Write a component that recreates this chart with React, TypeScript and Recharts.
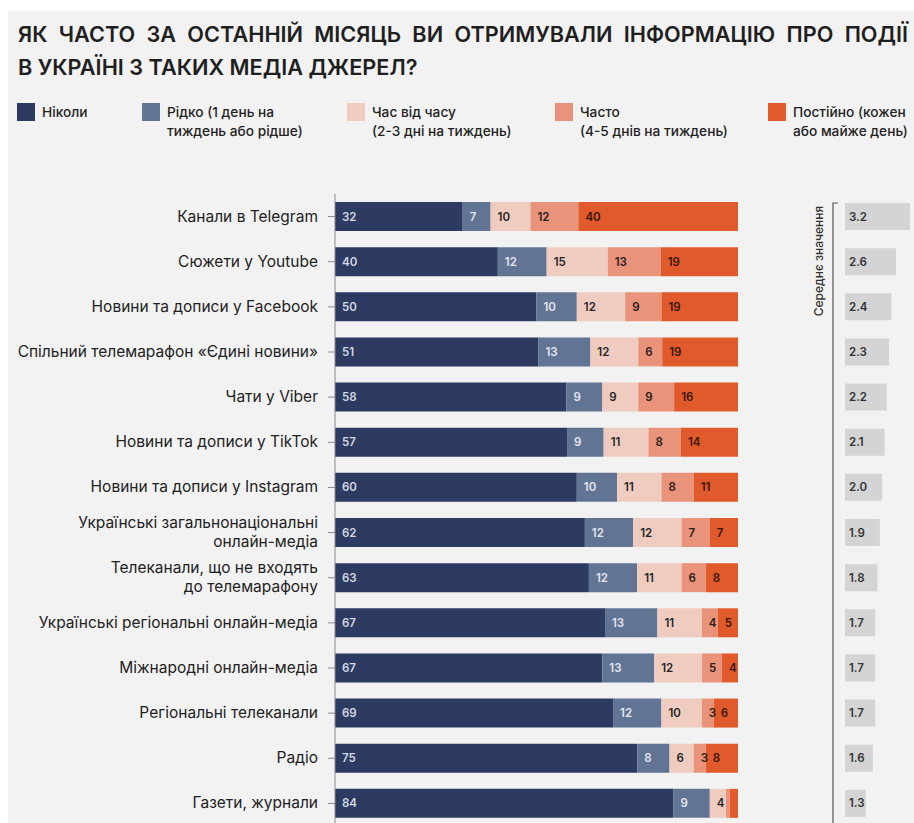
import React from 'react';
import { BarChart, Bar, XAxis, YAxis, LabelList } from 'recharts';

const categories = [
  'Канали в Telegram',
  'Сюжети у Youtube',
  'Новини та дописи у Facebook',
  'Спільний телемарафон «Єдині новини»',
  'Чати у Viber',
  'Новини та дописи у TikTok',
  'Новини та дописи у Instagram',
  'Українські загальнонаціональні\nонлайн-медіа',
  'Телеканали, що не входять\nдо телемарафону',
  'Українські регіональні онлайн-медіа',
  'Міжнародні онлайн-медіа',
  'Регіональні телеканали',
  'Радіо',
  'Газети, журнали',
];

const never = [32, 40, 50, 51, 58, 57, 60, 62, 63, 67, 67, 69, 75, 84];
const rarely = [7, 12, 10, 13, 9, 9, 10, 12, 12, 13, 13, 12, 8, 9];
const sometimes = [10, 15, 12, 12, 9, 11, 11, 12, 11, 11, 12, 10, 6, 4];
const often = [12, 13, 9, 6, 9, 8, 8, 7, 6, 4, 5, 3, 3, 1];
const always = [40, 19, 19, 19, 16, 14, 11, 7, 8, 5, 4, 6, 8, 2];
const means = [3.2, 2.6, 2.4, 2.3, 2.2, 2.1, 2.0, 1.9, 1.8, 1.7, 1.7, 1.7, 1.6, 1.3];

const SERIES = [
  { key: 'never', values: never, name: 'Ніколи', sub: '', color: '#2d3a62', text: '#d3d8e3' },
  { key: 'rarely', values: rarely, name: 'Рідко (1 день на', sub: 'тиждень або рідше)', color: '#627494', text: '#e2e6ee' },
  { key: 'sometimes', values: sometimes, name: 'Час від часу', sub: '(2-3 дні на тиждень)', color: '#f0ccc0', text: '#262626' },
  { key: 'often', values: often, name: 'Часто', sub: '(4-5 днів на тиждень)', color: '#e9937a', text: '#2b2020' },
  { key: 'always', values: always, name: 'Постійно (кожен', sub: 'або майже день)', color: '#e05a2b', text: '#3a170a' },
];

const LEGEND_X = [17, 142, 347, 555, 768];

// bars are drawn as shares of each row's total (rows sum to 99-101), labels keep the raw numbers
const data = categories.map((name, i) => {
  const total = SERIES.reduce((s, ser) => s + ser.values[i], 0);
  const row: Record<string, any> = { name, mean: means[i] };
  SERIES.forEach((ser) => {
    row[ser.key] = (ser.values[i] / total) * 100;
    row[ser.key + 'Raw'] = ser.values[i];
  });
  return row;
});

const FONT = 'Inter, Roboto, "Noto Sans", sans-serif';

const CategoryTick = (props: any) => {
  const { x, y, payload } = props;
  const lines = String(payload.value).split('\n');
  const start = -((lines.length - 1) * 19) / 2;
  return (
    <text x={x} y={y} textAnchor="end" fill="#222" fontSize={15.5} fontFamily={FONT}>
      {lines.map((l, i) => (
        <tspan key={i} x={x} dy={i === 0 ? start + 5 : 19}>
          {l}
        </tspan>
      ))}
    </text>
  );
};

const hideSmall = (v: any) => (Number(v) >= 3 ? v : '');

export default function App() {
  return (
    <div
      style={{
        position: 'absolute',
        left: 0,
        top: 0,
        width: 914,
        height: 823,
        background: '#ffffff',
        overflow: 'hidden',
        fontFamily: FONT,
      }}
    >
      <div style={{ position: 'absolute', left: 8, top: 11, right: 0, bottom: 0, background: '#f2f2f2' }} />

      <div
        style={{
          position: 'absolute',
          left: 18,
          top: 23,
          width: 890,
          fontSize: 21.7,
          lineHeight: '22px',
          fontWeight: 600,
          color: '#1f1f1f',
          textAlign: 'justify',
          textAlignLast: 'justify',
          whiteSpace: 'nowrap',
        }}
      >
        ЯК ЧАСТО ЗА ОСТАННІЙ МІСЯЦЬ ВИ ОТРИМУВАЛИ ІНФОРМАЦІЮ ПРО ПОДІЇ
      </div>
      <div
        style={{
          position: 'absolute',
          left: 18,
          top: 56,
          fontSize: 21.7,
          lineHeight: '22px',
          fontWeight: 600,
          color: '#1f1f1f',
          whiteSpace: 'nowrap',
        }}
      >
        В УКРАЇНІ З ТАКИХ МЕДІА ДЖЕРЕЛ?
      </div>

      <svg width={914} height={150} style={{ position: 'absolute', left: 0, top: 0 }}>
        {SERIES.map((s, i) => (
          <g key={s.key}>
            <rect x={LEGEND_X[i]} y={103} width={18} height={18} fill={s.color} />
            <text x={LEGEND_X[i] + 25} y={117} fontSize={13.7} fontWeight={500} fill="#222" fontFamily={FONT}>
              {s.name}
            </text>
            {s.sub && (
              <text x={LEGEND_X[i] + 25} y={135.5} fontSize={13.7} fontWeight={500} fill="#222" fontFamily={FONT}>
                {s.sub}
              </text>
            )}
          </g>
        ))}
      </svg>

      <div style={{ position: 'absolute', left: 0, top: 0 }}>
        <BarChart
          width={760}
          height={830}
          data={data}
          layout="vertical"
          margin={{ top: 194, right: 22, bottom: 4, left: 0 }}
          barSize={29}
        >
          <XAxis type="number" domain={[0, 100]} allowDataOverflow hide />
          <YAxis
            type="category"
            dataKey="name"
            width={335}
            axisLine={{ stroke: '#8a8a8a' }}
            tickLine={{ stroke: '#8a8a8a' }}
            tickSize={7}
            tickMargin={10}
            tick={<CategoryTick />}
            interval={0}
          />
          {SERIES.map((s) => (
            <Bar key={s.key} dataKey={s.key} stackId="a" fill={s.color} isAnimationActive={false}>
              <LabelList
                dataKey={s.key + 'Raw'}
                position="insideLeft"
                offset={7}
                formatter={hideSmall}
                fill={s.text}
                fontSize={11.5}
                fontWeight={600}
                fontFamily={FONT}
              />
            </Bar>
          ))}
        </BarChart>
      </div>

      <div style={{ position: 'absolute', left: 830, top: 0 }}>
        <BarChart
          width={84}
          height={830}
          data={data}
          layout="vertical"
          margin={{ top: 194, right: 4, bottom: 4, left: 15 }}
          barSize={27}
        >
          <XAxis type="number" domain={[0.4, 3.2]} allowDataOverflow hide />
          <YAxis type="category" dataKey="name" hide />
          <Bar dataKey="mean" fill="#d4d4d4" isAnimationActive={false}>
            <LabelList
              dataKey="mean"
              position="insideLeft"
              offset={4}
              formatter={(v: any) => Number(v).toFixed(1)}
              fill="#333"
              fontSize={11.5}
              fontWeight={600}
              fontFamily={FONT}
            />
          </Bar>
        </BarChart>
      </div>

      <svg width={40} height={823} style={{ position: 'absolute', left: 805, top: 0 }}>
        <path d="M28 823 V203 H33" fill="none" stroke="#555" strokeWidth={1.2} />
        <text
          transform="translate(18 261) rotate(-90)"
          textAnchor="middle"
          fontSize={12}
          fontWeight={500}
          fill="#333"
          fontFamily={FONT}
        >
          Середнє значення
        </text>
      </svg>
    </div>
  );
}
